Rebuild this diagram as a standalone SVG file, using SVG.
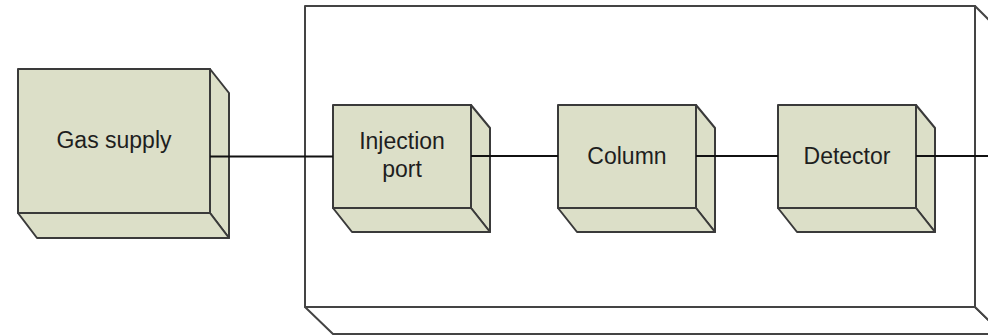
<svg xmlns="http://www.w3.org/2000/svg" width="988" height="335" viewBox="0 0 988 335">
<style>
.face{fill:#dcdfc8;stroke:#3a3a3a;stroke-width:2;stroke-linejoin:round}
.frame{fill:#ffffff;stroke:#444444;stroke-width:2;stroke-linejoin:round}
.lbl{font-family:"Liberation Sans",Arial,sans-serif;font-size:23px;fill:#1e1e1e;text-anchor:middle}
.conn{stroke:#111111;stroke-width:2;fill:none}
</style>
<rect x="0" y="0" width="988" height="335" fill="#ffffff"/>

<g id="instrument">
  <polygon class="frame" points="305,307 975,307 1003,334 333,334"/>
  <polygon class="frame" points="975,6 1003,34 1003,334 975,307"/>
  <rect class="frame" x="305" y="6" width="670" height="301"/>
</g>

<g id="gas-supply">
  <polygon class="face" points="210,69 229,93 229,238 210,213"/>
  <polygon class="face" points="18,213 210,213 229,238 37,238"/>
  <rect class="face" x="18" y="69" width="192" height="144"/>
  <text class="lbl" x="114" y="148">Gas supply</text>
</g>

<g id="injection-port">
  <polygon class="face" points="471,105 490,128 490,232 471,208"/>
  <polygon class="face" points="333,208 471,208 490,232 352,232"/>
  <rect class="face" x="333" y="105" width="138" height="103"/>
  <text class="lbl" x="402" y="149">Injection</text>
  <text class="lbl" x="402" y="177">port</text>
</g>

<g id="column">
  <polygon class="face" points="696,105 715,128 715,232 696,208"/>
  <polygon class="face" points="558,208 696,208 715,232 577,232"/>
  <rect class="face" x="558" y="105" width="138" height="103"/>
  <text class="lbl" x="627" y="164">Column</text>
</g>

<g id="detector">
  <polygon class="face" points="916,105 935,128 935,232 916,208"/>
  <polygon class="face" points="778,208 916,208 935,232 797,232"/>
  <rect class="face" x="778" y="105" width="138" height="103"/>
  <text class="lbl" x="847" y="164">Detector</text>
</g>

<g id="connectors">
  <line class="conn" x1="210" y1="156.5" x2="333" y2="156.5"/>
  <line class="conn" x1="471" y1="156" x2="558" y2="156"/>
  <line class="conn" x1="696" y1="156" x2="778" y2="156"/>
  <line class="conn" x1="916" y1="156" x2="988" y2="156"/>
</g>
</svg>
